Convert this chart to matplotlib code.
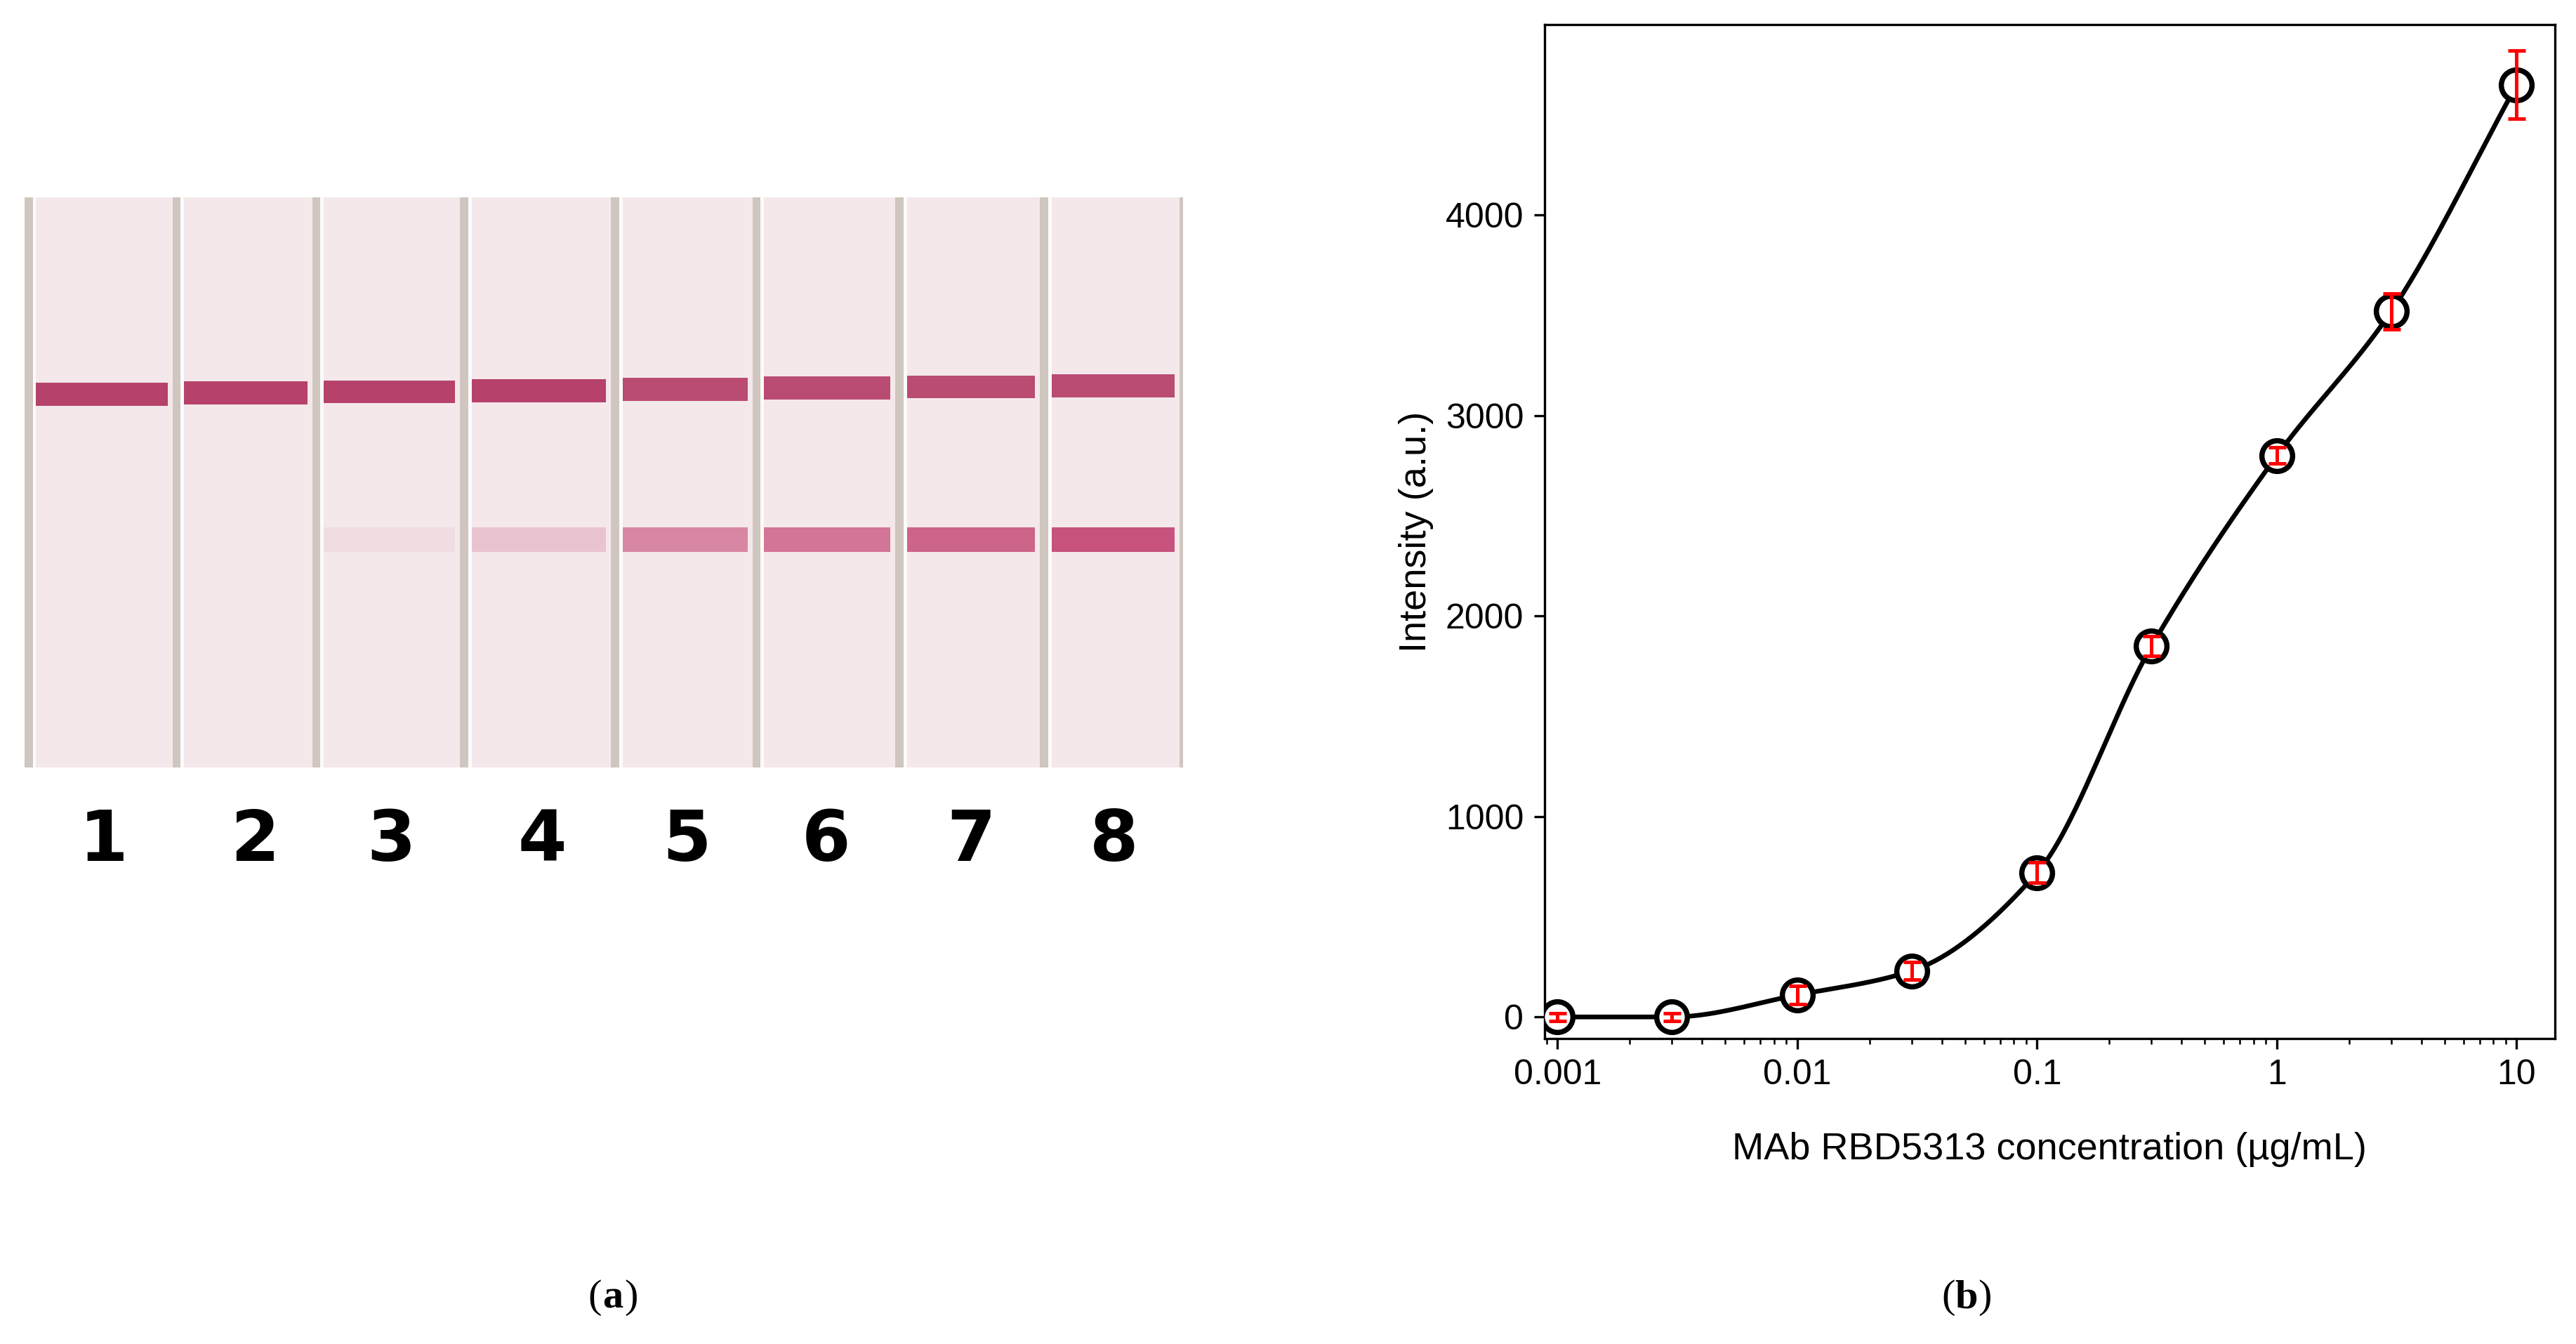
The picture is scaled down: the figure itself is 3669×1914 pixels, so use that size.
import numpy as np
import matplotlib.pyplot as plt
from matplotlib.patches import Rectangle

plt.rcParams['font.family'] = ['Liberation Sans', 'DejaVu Sans']

# panel (b) data
conc = np.array([0.001, 0.003, 0.01, 0.03, 0.1, 0.3, 1, 3, 10])
intensity = np.array([0, 0, 110, 230, 720, 1850, 2800, 3520, 4650])
err = np.array([20, 20, 45, 45, 50, 50, 40, 90, 170])

# panel (a) strips
lanes = ["1", "2", "3", "4", "5", "6", "7", "8"]
test_strength = [0.0, 0.0, 0.06, 0.2, 0.55, 0.65, 0.75, 0.85]
control_strength = [0.9, 0.9, 0.9, 0.9, 0.85, 0.85, 0.85, 0.85]


def pchip(x, y, n=40):
    # monotone cubic (Fritsch-Carlson) through the points
    h = np.diff(x)
    d = np.diff(y) / h
    m = np.zeros(len(x))
    m[0], m[-1] = d[0], d[-1]
    for k in range(1, len(x) - 1):
        if d[k - 1] * d[k] > 0:
            w1 = 2 * h[k] + h[k - 1]
            w2 = h[k] + 2 * h[k - 1]
            m[k] = (w1 + w2) / (w1 / d[k - 1] + w2 / d[k])
    xs, ys = [], []
    for k in range(len(x) - 1):
        t = np.linspace(0, 1, n)
        h00 = 2 * t**3 - 3 * t**2 + 1
        h10 = t**3 - 2 * t**2 + t
        h01 = -2 * t**3 + 3 * t**2
        h11 = t**3 - t**2
        xs.append(x[k] + t * h[k])
        ys.append(h00 * y[k] + h10 * h[k] * m[k] + h01 * y[k + 1] + h11 * h[k] * m[k + 1])
    return np.concatenate(xs), np.concatenate(ys)


fig = plt.figure(figsize=(3669 / 300, 1914 / 300), dpi=300)

# ---- panel (a): drawn strip photo ----
axa = fig.add_axes([15 / 1568, 1 - 467 / 818, 705 / 1568, 347 / 818])
axa.set_xlim(0, 705)
axa.set_ylim(347, 0)
axa.axis("off")
axa.add_patch(Rectangle((0, 0), 705, 347, color="#f4e8ea", zorder=0))
edges = [0, 90, 175, 265, 357, 443, 530, 618, 703]
for i in range(8):
    x0, x1 = edges[i] + 5, edges[i + 1] - 3
    yc = 120 - 6 * (x0 / 705)
    axa.add_patch(Rectangle((x0, yc - 7), x1 - x0, 14, color="#b0305e",
                            alpha=control_strength[i], lw=0, zorder=2))
    if test_strength[i] > 0:
        axa.add_patch(Rectangle((x0, 201), x1 - x0, 15, color="#c0386a",
                                alpha=test_strength[i], lw=0, zorder=2))
for e in edges:
    axa.add_patch(Rectangle((e, 0), 5, 347, color="#cfc6bf", lw=0, zorder=3))
    axa.add_patch(Rectangle((e + 5, 0), 2, 347, color="#fbfbfb", lw=0, zorder=3))

num_x = [63, 155, 238, 330, 418, 503, 591, 678]
for lab, x in zip(lanes, num_x):
    fig.text(x / 1568, 1 - 512 / 818, lab, fontsize=24, fontweight="bold",
             family="DejaVu Sans", ha="center", va="center")

# ---- panel (b) ----
ax = fig.add_axes([940 / 1568, 1 - 632 / 818, 615 / 1568, 617 / 818])
lx, ly = pchip(np.log10(conc), intensity)
ax.plot(10 ** lx, ly, color="black", lw=1.6, zorder=2)
ax.scatter(conc, intensity, s=110, facecolor="white", edgecolor="black",
           linewidth=1.8, zorder=3)
ax.errorbar(conc, intensity, yerr=err, fmt="none", ecolor="red", elinewidth=1.2,
            capsize=3, capthick=1.2, zorder=4)
ax.set_xscale("log")
ax.set_xlim(0.00088, 14.4)
ax.set_ylim(-107, 4950)
ax.set_xticks([0.001, 0.01, 0.1, 1, 10])
ax.set_xticklabels(["0.001", "0.01", "0.1", "1", "10"])
ax.set_yticks([0, 1000, 2000, 3000, 4000])
ax.tick_params(labelsize=12, direction="out")
ax.set_xlabel("MAb RBD5313 concentration (\u00b5g/mL)", fontsize=13, labelpad=14)
ax.set_ylabel("Intensity (a.u.)", fontsize=13)

for xc, letter in [(373, "a"), (1197, "b")]:
    fig.text(xc / 1568, 1 - 790 / 818, "(" + letter + ")", fontsize=14,
             family="Liberation Serif", ha="center", va="center", color="none")
    fig.text((xc - 7) / 1568, 1 - 790 / 818, "(", fontsize=14,
             family="Liberation Serif", ha="right", va="center")
    fig.text(xc / 1568, 1 - 790 / 818, letter, fontsize=14, fontweight="bold",
             family="Liberation Serif", ha="center", va="center")
    fig.text((xc + 7) / 1568, 1 - 790 / 818, ")", fontsize=14,
             family="Liberation Serif", ha="left", va="center")

fig.savefig("out.png", dpi=300)
